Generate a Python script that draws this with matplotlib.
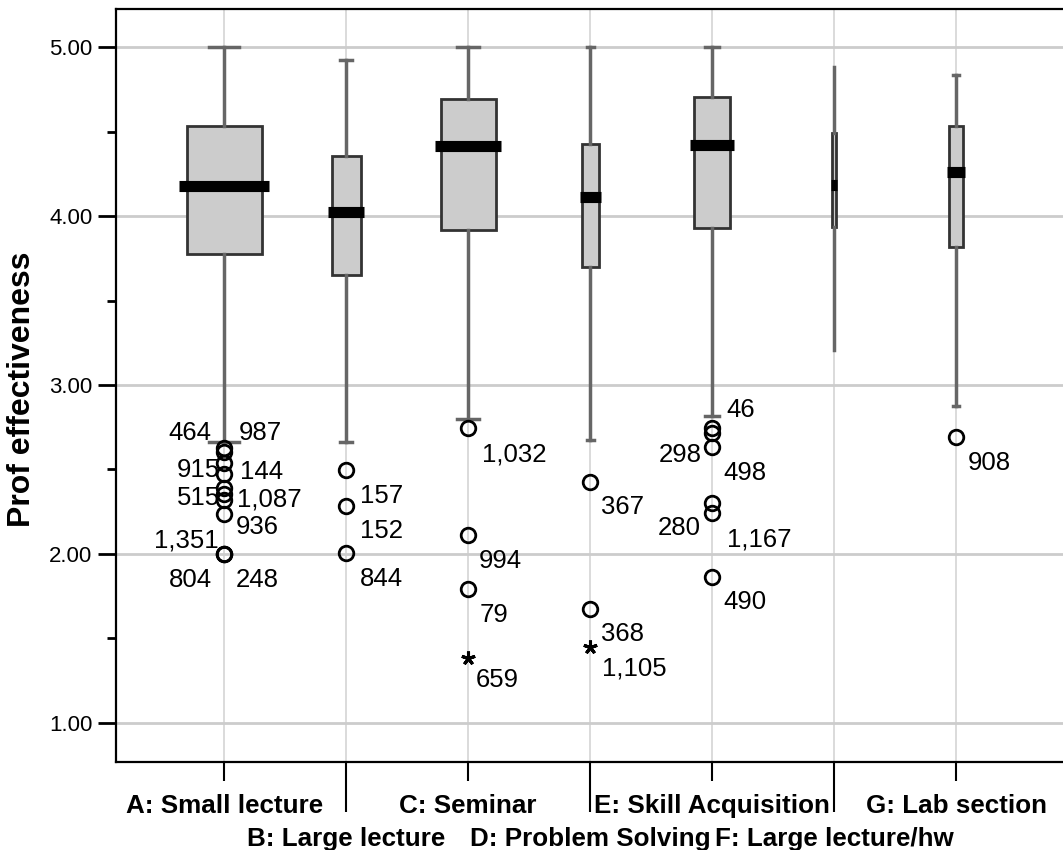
import matplotlib
matplotlib.use("Agg")
import matplotlib.pyplot as plt

plt.rcParams['font.family'] = ['Liberation Sans', 'DejaVu Sans']

# ---------------- data ----------------
categories = ["A: Small lecture", "B: Large lecture", "C: Seminar", "D: Problem Solving",
              "E: Skill Acquisition", "F: Large lecture/hw", "G: Lab section"]
q1 = [3.775, 3.649, 3.919, 3.700, 3.931, 3.935, 3.817]
medians = [4.179, 4.025, 4.416, 4.111, 4.420, 4.182, 4.262]
q3 = [4.533, 4.357, 4.692, 4.425, 4.706, 4.489, 4.533]
whisker_low = [2.665, 2.661, 2.797, 2.675, 2.817, 3.207, 2.874]
whisker_high = [5.00, 4.923, 5.00, 5.00, 5.00, 4.884, 4.833]

# outliers (circles) and their case ids
out_A = [2.627, 2.604, 2.538, 2.473, 2.391, 2.355, 2.320, 2.237, 2.00, 2.00, 2.00]
ids_A = ["464", "987", "915", "144", "515", "1,087", "", "936", "1,351", "804", "248"]
out_B = [2.497, 2.284, 2.008]
ids_B = ["157", "152", "844"]
out_C = [2.744, 2.112, 1.793]
ids_C = ["1,032", "994", "79"]
out_D = [2.428, 1.675]
ids_D = ["367", "368"]
out_E = [2.747, 2.718, 2.635, 2.300, 2.241, 1.866]
ids_E = ["46", "298", "498", "280", "1,167", "490"]
out_F = []
ids_F = []
out_G = [2.694]
ids_G = ["908"]

# extreme values (stars)
ext_C = [1.385]
ext_C_ids = ["659"]
ext_D = [1.452]
ext_D_ids = ["1,105"]

outliers = [out_A, out_B, out_C, out_D, out_E, out_F, out_G]
outlier_ids = [ids_A, ids_B, ids_C, ids_D, ids_E, ids_F, ids_G]
extremes = [[], [], ext_C, ext_D, [], [], []]
extreme_ids = [[], [], ext_C_ids, ext_D_ids, [], [], []]

# ---------------- layout / style ----------------
box_widths = [0.615, 0.24, 0.451, 0.139, 0.293, 0.03, 0.12]   # proportional to group size
# label offsets in pixels (dx, dy downward) relative to each point
lab_off = [
    [(-13, -17), (14, -21), (-4, 5), (16, -4), (-4, 8), (13, 3), None, (11, 11), (-6, -16), (-12, 24), (11, 24)],
    [(14, 24), (14, 23), (14, 24)],
    [(14, 24), (11, 24), (11, 24)],
    [(11, 23), (11, 23)],
    [(14, -20), (-10, 20), (11, 24), (-11, 23), (15, 24), (11, 23)],
    [],
    [(12, 24)],
]
ext_off = [[], [], [(8, 20)], [(12, 20)], [], [], []]

W, H = 1063, 850
fig = plt.figure(figsize=(W / 100, H / 100), dpi=100)
ax = fig.add_axes([116 / W, 1 - 762 / H, 1 - 116 / W, (762 - 9) / H])

positions = list(range(len(categories)))
stats = []
for i in positions:
    stats.append(dict(med=medians[i], q1=q1[i], q3=q3[i],
                      whislo=whisker_low[i], whishi=whisker_high[i], fliers=[]))

caps = [w * 0.4 if w > 0.05 else 0.0 for w in box_widths]
ax.bxp(stats, positions=positions, widths=box_widths, capwidths=caps,
       showfliers=False, patch_artist=True, manage_ticks=False,
       boxprops=dict(facecolor='#cccccc', edgecolor='#333333', linewidth=2),
       whiskerprops=dict(color='#666666', linewidth=2.5),
       capprops=dict(color='#666666', linewidth=2.5),
       medianprops=dict(linewidth=0), zorder=3)

mw = [w * 1.18 + 0.01 for w in box_widths]
lc = ax.hlines(medians, [p - m / 2 for p, m in zip(positions, mw)],
               [p + m / 2 for p, m in zip(positions, mw)],
               colors='black', linewidth=8, zorder=5)
lc.set_capstyle('butt')

LABEL_FS = 18.5
cap_half = LABEL_FS * 100 / 72 * 0.716 / 2

for i in positions:
    vals = outliers[i]
    if vals:
        ax.plot([i] * len(vals), vals, ls='none', marker='o', ms=10.5,
                mfc='none', mec='black', mew=2, zorder=6, clip_on=False)
    for v, t, off in zip(vals, outlier_ids[i], lab_off[i]):
        if not t or off is None:
            continue
        dx, dy = off
        ax.annotate(t, xy=(i, v), xytext=(dx, -(dy + cap_half)), textcoords='offset pixels',
                    ha='left' if dx > 0 else 'right', va='baseline', fontsize=LABEL_FS, zorder=7)
    evals = extremes[i]
    if evals:
        ax.plot([i] * len(evals), evals, ls='none', marker=(5, 2, 0), ms=10,
                mec='black', mew=2.2, zorder=6)
    for v, t, off in zip(evals, extreme_ids[i], ext_off[i]):
        dx, dy = off
        ax.annotate(t, xy=(i, v), xytext=(dx, -(dy + cap_half)), textcoords='offset pixels',
                    ha='left' if dx > 0 else 'right', va='baseline', fontsize=LABEL_FS, zorder=7)

# axes limits
ax.set_xlim(-0.888, 6.877)
ax.set_ylim(0.769, 5.225)

# y ticks
yt = [1, 2, 3, 4, 5]
ax.set_yticks(yt)
ax.set_yticklabels([f"{v:.2f}" for v in yt], fontsize=16)
ax.set_yticks([1.5, 2.5, 3.5, 4.5], minor=True)
ax.tick_params(axis='y', which='major', length=13, width=2, pad=4, color='black')
ax.tick_params(axis='y', which='minor', length=6.5, width=2, color='black')

# x ticks: staggered labels
XFS = 18.7
ax.set_xticks(positions[0::2])
ax.set_xticklabels(categories[0::2], fontsize=XFS, fontweight='bold')
ax.set_xticks(positions[1::2], minor=True)
ax.set_xticklabels(categories[1::2], minor=True, fontsize=XFS, fontweight='bold')
ax.tick_params(axis='x', which='major', length=13.7, width=1.5, pad=9, color='black')
ax.tick_params(axis='x', which='minor', length=36, width=1.5, pad=10.5, color='black')

# grid
ax.set_axisbelow(True)
ax.grid(axis='x', which='both', color='#d4d4d4', linewidth=1.2)
ax.grid(axis='y', which='major', color='#cccccc', linewidth=2)
ax.grid(axis='y', which='minor', visible=False)

for s in ['left', 'top', 'bottom']:
    ax.spines[s].set_linewidth(1.6)
    ax.spines[s].set_color('black')
ax.spines['right'].set_visible(False)

fig.text(22 / W, 1 - 389 / H, "Prof effectiveness", rotation=90, ha='center', va='center',
         fontsize=23, fontweight='bold')

fig.savefig("out.png", dpi=100)
